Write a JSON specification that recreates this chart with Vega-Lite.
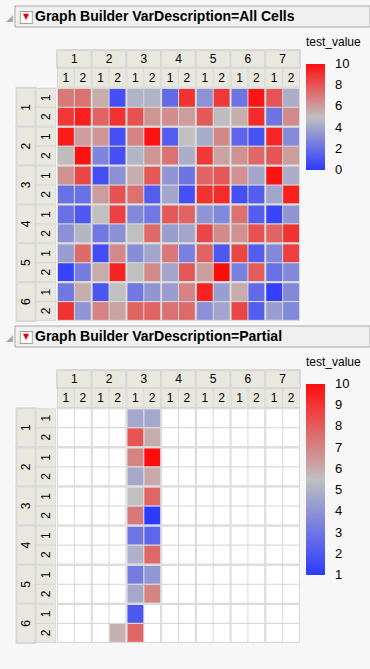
{
"$schema": "https://vega.github.io/schema/vega-lite/v6.json",
"background": "#F7F7F7",
"padding": {"left": 6, "top": 5, "right": 0, "bottom": 0},
"config": {"view": {"stroke": null}, "font": "Liberation Sans"},
"spacing": 0,
"bounds": "flush",
"resolve": {"scale": {"x": "independent", "y": "independent", "color": "independent", "xOffset": "independent", "yOffset": "independent"}},
"datasets": {
"one": [{}],
"all": [
{"r":"1","rs":"1","c":"1","cs":"1","v":7},{"r":"1","rs":"1","c":"1","cs":"2","v":7.2},{"r":"1","rs":"1","c":"2","cs":"1","v":5.6},{"r":"1","rs":"1","c":"2","cs":"2","v":0.8},{"r":"1","rs":"1","c":"3","cs":"1","v":4.5},{"r":"1","rs":"1","c":"3","cs":"2","v":4.5},{"r":"1","rs":"1","c":"4","cs":"1","v":1.8},{"r":"1","rs":"1","c":"4","cs":"2","v":9},{"r":"1","rs":"1","c":"5","cs":"1","v":3.3},{"r":"1","rs":"1","c":"5","cs":"2","v":8.8},{"r":"1","rs":"1","c":"6","cs":"1","v":2.2},{"r":"1","rs":"1","c":"6","cs":"2","v":9.8},{"r":"1","rs":"1","c":"7","cs":"1","v":8},{"r":"1","rs":"1","c":"7","cs":"2","v":4.3},
{"r":"1","rs":"2","c":"1","cs":"1","v":8.8},{"r":"1","rs":"2","c":"1","cs":"2","v":9.5},{"r":"1","rs":"2","c":"2","cs":"1","v":7.6},{"r":"1","rs":"2","c":"2","cs":"2","v":9},{"r":"1","rs":"2","c":"3","cs":"1","v":8.1},{"r":"1","rs":"2","c":"3","cs":"2","v":6.2},{"r":"1","rs":"2","c":"4","cs":"1","v":6.4},{"r":"1","rs":"2","c":"4","cs":"2","v":6},{"r":"1","rs":"2","c":"5","cs":"1","v":7.9},{"r":"1","rs":"2","c":"5","cs":"2","v":4.9},{"r":"1","rs":"2","c":"6","cs":"1","v":5.5},{"r":"1","rs":"2","c":"6","cs":"2","v":9.2},{"r":"1","rs":"2","c":"7","cs":"1","v":2.2},{"r":"1","rs":"2","c":"7","cs":"2","v":6.5},
{"r":"2","rs":"1","c":"1","cs":"1","v":9.6},{"r":"2","rs":"1","c":"1","cs":"2","v":6},{"r":"2","rs":"1","c":"2","cs":"1","v":6.2},{"r":"2","rs":"1","c":"2","cs":"2","v":0.8},{"r":"2","rs":"1","c":"3","cs":"1","v":6.7},{"r":"2","rs":"1","c":"3","cs":"2","v":9.9},{"r":"2","rs":"1","c":"4","cs":"1","v":1.3},{"r":"2","rs":"1","c":"4","cs":"2","v":5},{"r":"2","rs":"1","c":"5","cs":"1","v":4.2},{"r":"2","rs":"1","c":"5","cs":"2","v":6.6},{"r":"2","rs":"1","c":"6","cs":"1","v":1.6},{"r":"2","rs":"1","c":"6","cs":"2","v":0.9},{"r":"2","rs":"1","c":"7","cs":"1","v":9.3},{"r":"2","rs":"1","c":"7","cs":"2","v":3},
{"r":"2","rs":"2","c":"1","cs":"1","v":5.1},{"r":"2","rs":"2","c":"1","cs":"2","v":9.9},{"r":"2","rs":"2","c":"2","cs":"1","v":2.8},{"r":"2","rs":"2","c":"2","cs":"2","v":0.8},{"r":"2","rs":"2","c":"3","cs":"1","v":4.6},{"r":"2","rs":"2","c":"3","cs":"2","v":6.2},{"r":"2","rs":"2","c":"4","cs":"1","v":7.2},{"r":"2","rs":"2","c":"4","cs":"2","v":4.3},{"r":"2","rs":"2","c":"5","cs":"1","v":8.8},{"r":"2","rs":"2","c":"5","cs":"2","v":5.8},{"r":"2","rs":"2","c":"6","cs":"1","v":6.3},{"r":"2","rs":"2","c":"6","cs":"2","v":7.5},{"r":"2","rs":"2","c":"7","cs":"1","v":8},{"r":"2","rs":"2","c":"7","cs":"2","v":6},
{"r":"3","rs":"1","c":"1","cs":"1","v":6.3},{"r":"3","rs":"1","c":"1","cs":"2","v":8.4},{"r":"3","rs":"1","c":"2","cs":"1","v":0.8},{"r":"3","rs":"1","c":"2","cs":"2","v":3.2},{"r":"3","rs":"1","c":"3","cs":"1","v":5.5},{"r":"3","rs":"1","c":"3","cs":"2","v":7.9},{"r":"3","rs":"1","c":"4","cs":"1","v":3.4},{"r":"3","rs":"1","c":"4","cs":"2","v":2.2},{"r":"3","rs":"1","c":"5","cs":"1","v":7.6},{"r":"3","rs":"1","c":"5","cs":"2","v":7.9},{"r":"3","rs":"1","c":"6","cs":"1","v":6.3},{"r":"3","rs":"1","c":"6","cs":"2","v":4},{"r":"3","rs":"1","c":"7","cs":"1","v":9.9},{"r":"3","rs":"1","c":"7","cs":"2","v":4.3},
{"r":"3","rs":"2","c":"1","cs":"1","v":2},{"r":"3","rs":"2","c":"1","cs":"2","v":2},{"r":"3","rs":"2","c":"2","cs":"1","v":6},{"r":"3","rs":"2","c":"2","cs":"2","v":8.1},{"r":"3","rs":"2","c":"3","cs":"1","v":7.2},{"r":"3","rs":"2","c":"3","cs":"2","v":1.3},{"r":"3","rs":"2","c":"4","cs":"1","v":4},{"r":"3","rs":"2","c":"4","cs":"2","v":0.8},{"r":"3","rs":"2","c":"5","cs":"1","v":9},{"r":"3","rs":"2","c":"5","cs":"2","v":9.2},{"r":"3","rs":"2","c":"6","cs":"1","v":0.8},{"r":"3","rs":"2","c":"6","cs":"2","v":1.3},{"r":"3","rs":"2","c":"7","cs":"1","v":4},{"r":"3","rs":"2","c":"7","cs":"2","v":9.5},
{"r":"4","rs":"1","c":"1","cs":"1","v":2},{"r":"4","rs":"1","c":"1","cs":"2","v":1.1},{"r":"4","rs":"1","c":"2","cs":"1","v":5},{"r":"4","rs":"1","c":"2","cs":"2","v":8.6},{"r":"4","rs":"1","c":"3","cs":"1","v":2.9},{"r":"4","rs":"1","c":"3","cs":"2","v":2.3},{"r":"4","rs":"1","c":"4","cs":"1","v":7.9},{"r":"4","rs":"1","c":"4","cs":"2","v":7.6},{"r":"4","rs":"1","c":"5","cs":"1","v":3.4},{"r":"4","rs":"1","c":"5","cs":"2","v":2.9},{"r":"4","rs":"1","c":"6","cs":"1","v":7.2},{"r":"4","rs":"1","c":"6","cs":"2","v":1.3},{"r":"4","rs":"1","c":"7","cs":"1","v":0.4},{"r":"4","rs":"1","c":"7","cs":"2","v":3.4},
{"r":"4","rs":"2","c":"1","cs":"1","v":3.2},{"r":"4","rs":"2","c":"1","cs":"2","v":4.6},{"r":"4","rs":"2","c":"2","cs":"1","v":2.3},{"r":"4","rs":"2","c":"2","cs":"2","v":3.2},{"r":"4","rs":"2","c":"3","cs":"1","v":5},{"r":"4","rs":"2","c":"3","cs":"2","v":7.4},{"r":"4","rs":"2","c":"4","cs":"1","v":3.7},{"r":"4","rs":"2","c":"4","cs":"2","v":4},{"r":"4","rs":"2","c":"5","cs":"1","v":8.4},{"r":"4","rs":"2","c":"5","cs":"2","v":6.5},{"r":"4","rs":"2","c":"6","cs":"1","v":6.3},{"r":"4","rs":"2","c":"6","cs":"2","v":8.1},{"r":"4","rs":"2","c":"7","cs":"1","v":7.6},{"r":"4","rs":"2","c":"7","cs":"2","v":9},
{"r":"5","rs":"1","c":"1","cs":"1","v":3.7},{"r":"5","rs":"1","c":"1","cs":"2","v":7.4},{"r":"5","rs":"1","c":"2","cs":"1","v":0.7},{"r":"5","rs":"1","c":"2","cs":"2","v":6.5},{"r":"5","rs":"1","c":"3","cs":"1","v":3.1},{"r":"5","rs":"1","c":"3","cs":"2","v":4},{"r":"5","rs":"1","c":"4","cs":"1","v":7},{"r":"5","rs":"1","c":"4","cs":"2","v":2.6},{"r":"5","rs":"1","c":"5","cs":"1","v":7.6},{"r":"5","rs":"1","c":"5","cs":"2","v":1.1},{"r":"5","rs":"1","c":"6","cs":"1","v":8.4},{"r":"5","rs":"1","c":"6","cs":"2","v":1.3},{"r":"5","rs":"1","c":"7","cs":"1","v":2.9},{"r":"5","rs":"1","c":"7","cs":"2","v":8.6},
{"r":"5","rs":"2","c":"1","cs":"1","v":0.3},{"r":"5","rs":"2","c":"1","cs":"2","v":2.5},{"r":"5","rs":"2","c":"2","cs":"1","v":5.6},{"r":"5","rs":"2","c":"2","cs":"2","v":9.4},{"r":"5","rs":"2","c":"3","cs":"1","v":5},{"r":"5","rs":"2","c":"3","cs":"2","v":6.5},{"r":"5","rs":"2","c":"4","cs":"1","v":4},{"r":"5","rs":"2","c":"4","cs":"2","v":7.9},{"r":"5","rs":"2","c":"5","cs":"1","v":6},{"r":"5","rs":"2","c":"5","cs":"2","v":10},{"r":"5","rs":"2","c":"6","cs":"1","v":2.6},{"r":"5","rs":"2","c":"6","cs":"2","v":7.8},{"r":"5","rs":"2","c":"7","cs":"1","v":2},{"r":"5","rs":"2","c":"7","cs":"2","v":2.9},
{"r":"6","rs":"1","c":"1","cs":"1","v":2.3},{"r":"6","rs":"1","c":"1","cs":"2","v":5.5},{"r":"6","rs":"1","c":"2","cs":"1","v":1},{"r":"6","rs":"1","c":"2","cs":"2","v":5},{"r":"6","rs":"1","c":"3","cs":"1","v":2.3},{"r":"6","rs":"1","c":"3","cs":"2","v":3.4},{"r":"6","rs":"1","c":"4","cs":"1","v":3.7},{"r":"6","rs":"1","c":"4","cs":"2","v":6.7},{"r":"6","rs":"1","c":"5","cs":"1","v":9.4},{"r":"6","rs":"1","c":"5","cs":"2","v":3.7},{"r":"6","rs":"1","c":"6","cs":"1","v":5.6},{"r":"6","rs":"1","c":"6","cs":"2","v":1.8},{"r":"6","rs":"1","c":"7","cs":"1","v":0.2},{"r":"6","rs":"1","c":"7","cs":"2","v":2.9},
{"r":"6","rs":"2","c":"1","cs":"1","v":9},{"r":"6","rs":"2","c":"1","cs":"2","v":3.4},{"r":"6","rs":"2","c":"2","cs":"1","v":6.7},{"r":"6","rs":"2","c":"2","cs":"2","v":5.8},{"r":"6","rs":"2","c":"3","cs":"1","v":7.6},{"r":"6","rs":"2","c":"3","cs":"2","v":7.6},{"r":"6","rs":"2","c":"4","cs":"1","v":7.2},{"r":"6","rs":"2","c":"4","cs":"2","v":7.4},{"r":"6","rs":"2","c":"5","cs":"1","v":3.2},{"r":"6","rs":"2","c":"5","cs":"2","v":4},{"r":"6","rs":"2","c":"6","cs":"1","v":8.4},{"r":"6","rs":"2","c":"6","cs":"2","v":1.3},{"r":"6","rs":"2","c":"7","cs":"1","v":3.7},{"r":"6","rs":"2","c":"7","cs":"2","v":2.9}
],
"partial": [
{"r":"1","rs":"1","c":"3","cs":"1","v":4.7},{"r":"1","rs":"1","c":"3","cs":"2","v":4.7},
{"r":"1","rs":"2","c":"3","cs":"1","v":8.2},{"r":"1","rs":"2","c":"3","cs":"2","v":6},
{"r":"2","rs":"1","c":"3","cs":"1","v":7},{"r":"2","rs":"1","c":"3","cs":"2","v":10},
{"r":"2","rs":"2","c":"3","cs":"1","v":4.7},{"r":"2","rs":"2","c":"3","cs":"2","v":6.1},
{"r":"3","rs":"1","c":"3","cs":"1","v":5.5},{"r":"3","rs":"1","c":"3","cs":"2","v":7.8},
{"r":"3","rs":"2","c":"3","cs":"1","v":7.3},{"r":"3","rs":"2","c":"3","cs":"2","v":1},
{"r":"4","rs":"1","c":"3","cs":"1","v":3},{"r":"4","rs":"1","c":"3","cs":"2","v":2.5},
{"r":"4","rs":"2","c":"3","cs":"1","v":5},{"r":"4","rs":"2","c":"3","cs":"2","v":7.7},
{"r":"5","rs":"1","c":"3","cs":"1","v":3.2},{"r":"5","rs":"1","c":"3","cs":"2","v":4.1},
{"r":"5","rs":"2","c":"3","cs":"1","v":4.7},{"r":"5","rs":"2","c":"3","cs":"2","v":7},
{"r":"6","rs":"1","c":"3","cs":"1","v":2},
{"r":"6","rs":"2","c":"2","cs":"2","v":5.9},{"r":"6","rs":"2","c":"3","cs":"1","v":7.8}
]
},
"vconcat": [
{
 "width": 355, "height": 21,
 "data": {"name": "one"},
 "layer": [
  {"mark": {"type": "rect", "fill": "#F0F0F0", "stroke": "#A8A8A8", "strokeWidth": 1}, "encoding": {}},
  {"mark": {"type": "text", "text": "◢", "align": "left", "baseline": "middle", "dx": -9, "dy": 1, "font": "DejaVu Sans", "fontSize": 9, "color": "#A8A8A8"}, "encoding": {"x": {"datum": 0, "type": "quantitative", "scale": {"domain": [0, 1]}, "axis": null}}},
  {"mark": {"type": "text", "text": "■", "align": "center", "baseline": "middle", "dx": 11, "font": "DejaVu Sans", "fontSize": 17, "color": "#FFFFFF"}, "encoding": {"x": {"datum": 0, "type": "quantitative", "scale": {"domain": [0, 1]}, "axis": null}}},
  {"mark": {"type": "text", "text": "□", "align": "center", "baseline": "middle", "dx": 11, "font": "DejaVu Sans", "fontSize": 17, "color": "#A0A0A0"}, "encoding": {"x": {"datum": 0, "type": "quantitative", "scale": {"domain": [0, 1]}, "axis": null}}},
  {"mark": {"type": "text", "text": "▼", "align": "center", "baseline": "middle", "dx": 11, "font": "DejaVu Sans", "fontSize": 8, "color": "#E00000"}, "encoding": {"x": {"datum": 0, "type": "quantitative", "scale": {"domain": [0, 1]}, "axis": null}}},
  {"mark": {"type": "text", "text": "Graph Builder VarDescription=All Cells", "align": "left", "baseline": "middle", "dx": 20, "fontSize": 14, "fontWeight": "bold", "color": "#000000"}, "encoding": {"x": {"datum": 0, "type": "quantitative", "scale": {"domain": [0, 1]}, "axis": null}}}
 ]
},
{
 "width": 355, "height": 299,
 "resolve": {"scale": {"x": "independent", "xOffset": "independent"}},
 "layer": [
  {"layer": [
   {"data": {"name": "all"}, "transform": [{"aggregate": [{"op": "count", "as": "n"}], "groupby": ["r"]}],
    "mark": {"type": "rect", "fill": "#D8D8D8"},
    "encoding": {"x": {"datum": "A", "type": "nominal", "scale": {"domain": ["A"], "range": [1, 41], "paddingInner": 0, "paddingOuter": 0}, "axis": null},
                 "y": {"field": "r", "type": "nominal", "scale": {"domain": ["H","1","2","3","4","5","6"], "range": [22, 294], "paddingInner": 0, "paddingOuter": 0}, "axis": null}}},
   {"data": {"name": "all"}, "transform": [{"aggregate": [{"op": "count", "as": "n"}], "groupby": ["r"]}],
    "mark": {"type": "rect", "fill": "#E8E8DE", "stroke": "#D8D8D8", "strokeWidth": 2},
    "encoding": {"x": {"datum": "A", "type": "nominal", "axis": null},
                 "xOffset": {"datum": "G", "type": "nominal", "scale": {"domain": ["G","S"], "paddingInner": 0.05, "paddingOuter": 0.03}},
                 "y": {"field": "r", "type": "nominal", "axis": null}}},
   {"data": {"name": "all"}, "transform": [{"aggregate": [{"op": "count", "as": "n"}], "groupby": ["r", "rs"]}],
    "mark": {"type": "rect", "fill": "#E8E8DE"},
    "encoding": {"x": {"datum": "A", "type": "nominal", "axis": null},
                 "xOffset": {"datum": "S", "type": "nominal"},
                 "y": {"field": "r", "type": "nominal", "axis": null},
                 "yOffset": {"field": "rs", "type": "nominal", "scale": {"domain": ["1","2"], "paddingInner": 0.06, "paddingOuter": 0.06}}}},
   {"data": {"name": "all"}, "transform": [{"aggregate": [{"op": "count", "as": "n"}], "groupby": ["r"]}],
    "mark": {"type": "text", "angle": 270, "fontSize": 12, "color": "#000000", "align": "center", "baseline": "middle"},
    "encoding": {"x": {"datum": "A", "type": "nominal", "axis": null},
                 "xOffset": {"datum": "G", "type": "nominal"},
                 "y": {"field": "r", "type": "nominal", "axis": null},
                 "text": {"field": "r", "type": "nominal"}}},
   {"data": {"name": "all"}, "transform": [{"aggregate": [{"op": "count", "as": "n"}], "groupby": ["r", "rs"]}],
    "mark": {"type": "text", "angle": 270, "fontSize": 12, "color": "#000000", "align": "center", "baseline": "middle"},
    "encoding": {"x": {"datum": "A", "type": "nominal", "axis": null},
                 "xOffset": {"datum": "S", "type": "nominal"},
                 "y": {"field": "r", "type": "nominal", "axis": null},
                 "yOffset": {"field": "rs", "type": "nominal"},
                 "text": {"field": "rs", "type": "nominal"}}}
  ]},
  {"layer": [
   {"data": {"name": "all"}, "transform": [{"aggregate": [{"op": "count", "as": "n"}], "groupby": ["c"]}],
    "mark": {"type": "rect", "fill": "#D8D8D8"},
    "encoding": {"x": {"field": "c", "type": "nominal", "scale": {"domain": ["1","2","3","4","5","6","7"], "range": [42, 285], "paddingInner": 0, "paddingOuter": 0}, "axis": null},
                 "y": {"datum": "H", "type": "nominal", "axis": null}}},
   {"data": {"name": "all"}, "transform": [{"aggregate": [{"op": "count", "as": "n"}], "groupby": ["c", "r"]}],
    "mark": {"type": "rect", "fill": "#D8D8D8"},
    "encoding": {"x": {"field": "c", "type": "nominal", "axis": null},
                 "y": {"field": "r", "type": "nominal", "axis": null}}},
   {"data": {"name": "all"}, "transform": [{"aggregate": [{"op": "count", "as": "n"}], "groupby": ["c"]}],
    "mark": {"type": "rect", "fill": "#E8E8DE", "stroke": "#D8D8D8", "strokeWidth": 2},
    "encoding": {"x": {"field": "c", "type": "nominal", "axis": null},
                 "y": {"datum": "H", "type": "nominal", "axis": null},
                 "yOffset": {"datum": "1", "type": "nominal"}}},
   {"data": {"name": "all"}, "transform": [{"aggregate": [{"op": "count", "as": "n"}], "groupby": ["c", "cs"]}],
    "mark": {"type": "rect", "fill": "#E8E8DE"},
    "encoding": {"x": {"field": "c", "type": "nominal", "axis": null},
                 "xOffset": {"field": "cs", "type": "nominal", "scale": {"domain": ["1","2"], "paddingInner": 0.06, "paddingOuter": 0.06}},
                 "y": {"datum": "H", "type": "nominal", "axis": null},
                 "yOffset": {"datum": "2", "type": "nominal"}}},
   {"data": {"name": "all"}, "transform": [{"aggregate": [{"op": "count", "as": "n"}], "groupby": ["c"]}],
    "mark": {"type": "text", "fontSize": 12, "color": "#000000", "align": "center", "baseline": "middle"},
    "encoding": {"x": {"field": "c", "type": "nominal", "axis": null},
                 "y": {"datum": "H", "type": "nominal", "axis": null},
                 "yOffset": {"datum": "1", "type": "nominal"},
                 "text": {"field": "c", "type": "nominal"}}},
   {"data": {"name": "all"}, "transform": [{"aggregate": [{"op": "count", "as": "n"}], "groupby": ["c", "cs"]}],
    "mark": {"type": "text", "fontSize": 12, "color": "#000000", "align": "center", "baseline": "middle"},
    "encoding": {"x": {"field": "c", "type": "nominal", "axis": null},
                 "xOffset": {"field": "cs", "type": "nominal"},
                 "y": {"datum": "H", "type": "nominal", "axis": null},
                 "yOffset": {"datum": "2", "type": "nominal"},
                 "text": {"field": "cs", "type": "nominal"}}},
   {"data": {"name": "all"},
    "mark": {"type": "rect"},
    "encoding": {"x": {"field": "c", "type": "nominal", "axis": null},
                 "xOffset": {"field": "cs", "type": "nominal"},
                 "y": {"field": "r", "type": "nominal", "axis": null},
                 "yOffset": {"field": "rs", "type": "nominal"},
                 "color": {"field": "v", "type": "quantitative",
                   "scale": {"domain": [0, 5, 10], "range": ["#2D3AFF", "#C0C0C0", "#FF0D0D"], "interpolate": "rgb"},
                   "legend": {"orient": "none", "legendX": 291, "legendY": 10, "direction": "vertical", "title": "test_value", "titleFontSize": 12, "titleFontWeight": "normal", "titleColor": "#000000", "titlePadding": 15, "gradientLength": 106, "gradientThickness": 19, "gradientStrokeWidth": 0, "labelFontSize": 13, "labelColor": "#000000", "labelOffset": 10, "labelOverlap": false, "tickCount": 5,
                     "encode": {"labels": {"update": {"baseline": {"value": "middle"}}}}}}}}
  ]}
 ]
},
{
 "width": 355, "height": 21,
 "data": {"name": "one"},
 "layer": [
  {"mark": {"type": "rect", "fill": "#F0F0F0", "stroke": "#A8A8A8", "strokeWidth": 1}, "encoding": {}},
  {"mark": {"type": "text", "text": "◢", "align": "left", "baseline": "middle", "dx": -9, "dy": 1, "font": "DejaVu Sans", "fontSize": 9, "color": "#A8A8A8"}, "encoding": {"x": {"datum": 0, "type": "quantitative", "scale": {"domain": [0, 1]}, "axis": null}}},
  {"mark": {"type": "text", "text": "■", "align": "center", "baseline": "middle", "dx": 11, "font": "DejaVu Sans", "fontSize": 17, "color": "#FFFFFF"}, "encoding": {"x": {"datum": 0, "type": "quantitative", "scale": {"domain": [0, 1]}, "axis": null}}},
  {"mark": {"type": "text", "text": "□", "align": "center", "baseline": "middle", "dx": 11, "font": "DejaVu Sans", "fontSize": 17, "color": "#A0A0A0"}, "encoding": {"x": {"datum": 0, "type": "quantitative", "scale": {"domain": [0, 1]}, "axis": null}}},
  {"mark": {"type": "text", "text": "▼", "align": "center", "baseline": "middle", "dx": 11, "font": "DejaVu Sans", "fontSize": 8, "color": "#E00000"}, "encoding": {"x": {"datum": 0, "type": "quantitative", "scale": {"domain": [0, 1]}, "axis": null}}},
  {"mark": {"type": "text", "text": "Graph Builder VarDescription=Partial", "align": "left", "baseline": "middle", "dx": 20, "fontSize": 14, "fontWeight": "bold", "color": "#000000"}, "encoding": {"x": {"datum": 0, "type": "quantitative", "scale": {"domain": [0, 1]}, "axis": null}}}
 ]
},
{
 "width": 355, "height": 323,
 "resolve": {"scale": {"x": "independent", "xOffset": "independent"}},
 "layer": [
  {"layer": [
   {"data": {"name": "all"}, "transform": [{"aggregate": [{"op": "count", "as": "n"}], "groupby": ["r"]}],
    "mark": {"type": "rect", "fill": "#D8D8D8"},
    "encoding": {"x": {"datum": "A", "type": "nominal", "scale": {"domain": ["A"], "range": [1, 41], "paddingInner": 0, "paddingOuter": 0}, "axis": null},
                 "y": {"field": "r", "type": "nominal", "scale": {"domain": ["H","1","2","3","4","5","6"], "range": [22, 296], "paddingInner": 0, "paddingOuter": 0}, "axis": null}}},
   {"data": {"name": "all"}, "transform": [{"aggregate": [{"op": "count", "as": "n"}], "groupby": ["r"]}],
    "mark": {"type": "rect", "fill": "#E8E8DE", "stroke": "#D8D8D8", "strokeWidth": 2},
    "encoding": {"x": {"datum": "A", "type": "nominal", "axis": null},
                 "xOffset": {"datum": "G", "type": "nominal", "scale": {"domain": ["G","S"], "paddingInner": 0.05, "paddingOuter": 0.03}},
                 "y": {"field": "r", "type": "nominal", "axis": null}}},
   {"data": {"name": "all"}, "transform": [{"aggregate": [{"op": "count", "as": "n"}], "groupby": ["r", "rs"]}],
    "mark": {"type": "rect", "fill": "#E8E8DE"},
    "encoding": {"x": {"datum": "A", "type": "nominal", "axis": null},
                 "xOffset": {"datum": "S", "type": "nominal"},
                 "y": {"field": "r", "type": "nominal", "axis": null},
                 "yOffset": {"field": "rs", "type": "nominal", "scale": {"domain": ["1","2"], "paddingInner": 0.06, "paddingOuter": 0.06}}}},
   {"data": {"name": "all"}, "transform": [{"aggregate": [{"op": "count", "as": "n"}], "groupby": ["r"]}],
    "mark": {"type": "text", "angle": 270, "fontSize": 12, "color": "#000000", "align": "center", "baseline": "middle"},
    "encoding": {"x": {"datum": "A", "type": "nominal", "axis": null},
                 "xOffset": {"datum": "G", "type": "nominal"},
                 "y": {"field": "r", "type": "nominal", "axis": null},
                 "text": {"field": "r", "type": "nominal"}}},
   {"data": {"name": "all"}, "transform": [{"aggregate": [{"op": "count", "as": "n"}], "groupby": ["r", "rs"]}],
    "mark": {"type": "text", "angle": 270, "fontSize": 12, "color": "#000000", "align": "center", "baseline": "middle"},
    "encoding": {"x": {"datum": "A", "type": "nominal", "axis": null},
                 "xOffset": {"datum": "S", "type": "nominal"},
                 "y": {"field": "r", "type": "nominal", "axis": null},
                 "yOffset": {"field": "rs", "type": "nominal"},
                 "text": {"field": "rs", "type": "nominal"}}}
  ]},
  {"layer": [
   {"data": {"name": "all"}, "transform": [{"aggregate": [{"op": "count", "as": "n"}], "groupby": ["c"]}],
    "mark": {"type": "rect", "fill": "#D8D8D8"},
    "encoding": {"x": {"field": "c", "type": "nominal", "scale": {"domain": ["1","2","3","4","5","6","7"], "range": [42, 285], "paddingInner": 0, "paddingOuter": 0}, "axis": null},
                 "y": {"datum": "H", "type": "nominal", "axis": null}}},
   {"data": {"name": "all"}, "transform": [{"aggregate": [{"op": "count", "as": "n"}], "groupby": ["c", "r"]}],
    "mark": {"type": "rect", "fill": "#D8D8D8"},
    "encoding": {"x": {"field": "c", "type": "nominal", "axis": null},
                 "y": {"field": "r", "type": "nominal", "axis": null}}},
   {"data": {"name": "all"}, "transform": [{"aggregate": [{"op": "count", "as": "n"}], "groupby": ["c"]}],
    "mark": {"type": "rect", "fill": "#E8E8DE", "stroke": "#D8D8D8", "strokeWidth": 2},
    "encoding": {"x": {"field": "c", "type": "nominal", "axis": null},
                 "y": {"datum": "H", "type": "nominal", "axis": null},
                 "yOffset": {"datum": "1", "type": "nominal"}}},
   {"data": {"name": "all"}, "transform": [{"aggregate": [{"op": "count", "as": "n"}], "groupby": ["c", "cs"]}],
    "mark": {"type": "rect", "fill": "#E8E8DE"},
    "encoding": {"x": {"field": "c", "type": "nominal", "axis": null},
                 "xOffset": {"field": "cs", "type": "nominal", "scale": {"domain": ["1","2"], "paddingInner": 0.06, "paddingOuter": 0.06}},
                 "y": {"datum": "H", "type": "nominal", "axis": null},
                 "yOffset": {"datum": "2", "type": "nominal"}}},
   {"data": {"name": "all"}, "transform": [{"aggregate": [{"op": "count", "as": "n"}], "groupby": ["c"]}],
    "mark": {"type": "text", "fontSize": 12, "color": "#000000", "align": "center", "baseline": "middle"},
    "encoding": {"x": {"field": "c", "type": "nominal", "axis": null},
                 "y": {"datum": "H", "type": "nominal", "axis": null},
                 "yOffset": {"datum": "1", "type": "nominal"},
                 "text": {"field": "c", "type": "nominal"}}},
   {"data": {"name": "all"}, "transform": [{"aggregate": [{"op": "count", "as": "n"}], "groupby": ["c", "cs"]}],
    "mark": {"type": "text", "fontSize": 12, "color": "#000000", "align": "center", "baseline": "middle"},
    "encoding": {"x": {"field": "c", "type": "nominal", "axis": null},
                 "xOffset": {"field": "cs", "type": "nominal"},
                 "y": {"datum": "H", "type": "nominal", "axis": null},
                 "yOffset": {"datum": "2", "type": "nominal"},
                 "text": {"field": "cs", "type": "nominal"}}},
   {"data": {"name": "all"}, "transform": [{"aggregate": [{"op": "count", "as": "n"}], "groupby": ["c", "cs", "r", "rs"]}],
    "mark": {"type": "rect", "fill": "#FFFFFF"},
    "encoding": {"x": {"field": "c", "type": "nominal", "axis": null},
                 "xOffset": {"field": "cs", "type": "nominal"},
                 "y": {"field": "r", "type": "nominal", "axis": null},
                 "yOffset": {"field": "rs", "type": "nominal"}}},
   {"data": {"name": "partial"},
    "mark": {"type": "rect"},
    "encoding": {"x": {"field": "c", "type": "nominal", "axis": null},
                 "xOffset": {"field": "cs", "type": "nominal"},
                 "y": {"field": "r", "type": "nominal", "axis": null},
                 "yOffset": {"field": "rs", "type": "nominal"},
                 "color": {"field": "v", "type": "quantitative",
                   "scale": {"domain": [1, 5.5, 10], "range": ["#2D3AFF", "#C0C0C0", "#FF0D0D"], "interpolate": "rgb"},
                   "legend": {"orient": "none", "legendX": 291, "legendY": 10, "direction": "vertical", "title": "test_value", "titleFontSize": 12, "titleFontWeight": "normal", "titleColor": "#000000", "titlePadding": 15, "gradientLength": 191, "gradientThickness": 19, "gradientStrokeWidth": 0, "labelFontSize": 13, "labelColor": "#000000", "labelOffset": 10, "labelOverlap": false, "tickCount": 10,
                     "encode": {"labels": {"update": {"baseline": {"value": "middle"}}}}}}}}
  ]}
 ]
}
]
}
